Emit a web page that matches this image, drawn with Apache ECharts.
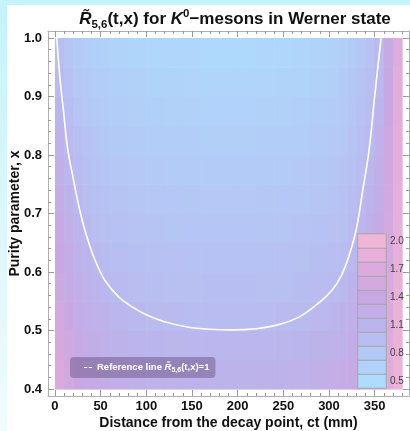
<!DOCTYPE html>
<html>
<head>
<meta charset="utf-8">
<script src="https://cdn.jsdelivr.net/npm/echarts@6.0.0/dist/echarts.min.js"></script>
<style>
html,body{margin:0;padding:0;}
#chart{width:410px;height:431px;}
</style>
</head>
<body>
<div id="chart"></div>
<script>
// cell edges of the density plot (t in mm, x purity)
var tEdges = [0,10,20,30,40,50,60,80,100,120,140,160,180,200,220,240,260,280,300,310,320,330,340,350,360,370,380];
var xEdges = [0.4,0.45,0.5,0.55,0.6,0.65,0.7,0.75,0.8,0.85,0.9,0.95,1.0];

// R values, one list per t cell, from x=0.4 (bottom) to x=1.0 (top)
var ratio = [
	[1.68,1.61,1.55,1.48,1.41,1.35,1.28,1.21,1.15,1.08,1.01,0.97],
	[1.52,1.46,1.39,1.33,1.26,1.20,1.13,1.07,1.01,0.95,0.90,0.84],
	[1.42,1.36,1.29,1.23,1.17,1.10,1.04,0.98,0.93,0.88,0.82,0.77],
	[1.36,1.29,1.23,1.16,1.09,1.03,0.97,0.92,0.87,0.82,0.77,0.72],
	[1.31,1.24,1.17,1.10,1.03,0.97,0.92,0.87,0.83,0.78,0.73,0.68],
	[1.27,1.20,1.12,1.05,0.98,0.94,0.89,0.84,0.80,0.75,0.71,0.66],
	[1.23,1.15,1.07,0.99,0.95,0.90,0.86,0.82,0.77,0.73,0.68,0.64],
	[1.19,1.11,1.02,0.97,0.92,0.88,0.83,0.79,0.74,0.70,0.66,0.61],
	[1.17,1.08,1.00,0.95,0.91,0.86,0.82,0.77,0.73,0.68,0.64,0.59],
	[1.15,1.06,0.99,0.94,0.90,0.85,0.81,0.76,0.72,0.67,0.63,0.58],
	[1.14,1.05,0.98,0.94,0.89,0.84,0.80,0.75,0.71,0.66,0.62,0.57],
	[1.13,1.05,0.98,0.93,0.89,0.84,0.79,0.75,0.70,0.65,0.61,0.56],
	[1.13,1.05,0.98,0.93,0.89,0.84,0.79,0.75,0.70,0.65,0.61,0.56],
	[1.13,1.05,0.98,0.93,0.89,0.84,0.79,0.75,0.70,0.65,0.61,0.56],
	[1.14,1.05,0.98,0.94,0.89,0.85,0.80,0.75,0.71,0.66,0.62,0.57],
	[1.15,1.06,0.99,0.94,0.90,0.85,0.81,0.76,0.72,0.67,0.63,0.58],
	[1.17,1.08,1.00,0.96,0.91,0.87,0.82,0.78,0.73,0.69,0.64,0.60],
	[1.21,1.13,1.04,0.98,0.93,0.89,0.85,0.80,0.76,0.72,0.67,0.63],
	[1.25,1.16,1.08,1.00,0.95,0.91,0.87,0.83,0.79,0.74,0.70,0.66],
	[1.28,1.20,1.12,1.03,0.98,0.94,0.90,0.86,0.82,0.78,0.74,0.70],
	[1.33,1.26,1.19,1.12,1.04,0.99,0.95,0.91,0.87,0.84,0.80,0.76],
	[1.40,1.33,1.27,1.20,1.14,1.07,1.01,0.97,0.93,0.89,0.86,0.82],
	[1.50,1.44,1.38,1.32,1.25,1.19,1.13,1.07,1.01,0.97,0.93,0.90],
	[1.62,1.56,1.50,1.45,1.39,1.33,1.27,1.21,1.16,1.10,1.04,0.99],
	[1.76,1.72,1.69,1.65,1.61,1.57,1.54,1.50,1.46,1.42,1.39,1.35],
	[1.92,1.91,1.89,1.87,1.86,1.84,1.83,1.81,1.80,1.78,1.77,1.75]
];

// reference contour R=1
var refT = [2,5,9,14,20,28,35,44,55,70,85,100,120,145,170,195,220,245,266,283,298,309,318,329,337,344,350,357];
var refX = [1.0,0.94,0.88,0.81,0.76,0.70,0.66,0.62,0.585,0.557,0.54,0.527,0.515,0.506,0.502,0.501,0.503,0.51,0.522,0.54,0.56,0.581,0.61,0.667,0.74,0.81,0.90,1.0];

// colour bar
var barLevels = [0.5,0.65,0.8,0.95,1.1,1.25,1.4,1.55,1.7,1.85,2.0];
var barLabels = ['0.5','0.65','0.8','0.95','1.1','1.25','1.4','1.55','1.7','1.85','2.0'];

// ticks
var xMajor = [0,50,100,150,200,250,300,350];
var xMinor = [0,10,20,30,40,50,60,70,80,90,100,110,120,130,140,150,160,170,180,190,200,210,220,230,240,250,260,270,280,290,300,310,320,330,340,350,360,370,380];
var yMajor = [0.4,0.5,0.6,0.7,0.8,0.9,1.0];
var yMinor = [0.4,0.42,0.44,0.46,0.48,0.5,0.52,0.54,0.56,0.58,0.6,0.62,0.64,0.66,0.68,0.7,0.72,0.74,0.76,0.78,0.8,0.82,0.84,0.86,0.88,0.9,0.92,0.94,0.96,0.98,1.0];

var FONT = 'Liberation Sans';
var PALETTE = ['#addcfd','#b4c8f6','#bcb4ec','#c9a7e2','#dcaadc','#f0b6d8'];
var T_MIN = -7.6, T_MAX = 387.6, X_MIN = 0.388, X_MAX = 1.012;

var cells = [];
for (var i = 0; i < ratio.length; i++) {
	for (var j = 0; j < ratio[i].length; j++) {
		cells.push([tEdges[i], tEdges[i+1], xEdges[j], xEdges[j+1], ratio[i][j]]);
	}
}
var refData = refT.map(function(t, k){ return [t, refX[k]]; });
var barData = barLevels.map(function(v, k){ return [0, k, v]; });

function renderCell(params, api){
	var p0 = api.coord([api.value(0), api.value(3)]);
	var p1 = api.coord([api.value(1), api.value(2)]);
	return {
		type: 'rect',
		shape: {x: p0[0], y: p0[1], width: p1[0]-p0[0]+0.6, height: p1[1]-p0[1]+0.6},
		style: {fill: api.visual('color')}
	};
}

function xAxisDef(pos, ticks, len, main){
	return {
		type: 'value', gridIndex: 0, min: T_MIN, max: T_MAX, position: pos,
		axisLine: {show: main, onZero: false, lineStyle: {color: '#b0b0b0', width: 1}},
		axisTick: {inside: true, length: len, customValues: ticks, lineStyle: {color: '#9a9a9a'}},
		axisLabel: {show: main && pos === 'bottom', customValues: xMajor, fontFamily: FONT, fontWeight: 'bold', fontSize: 13, color: '#111', margin: 4},
		splitLine: {show: false}
	};
}
function yAxisDef(pos, ticks, len, main){
	return {
		type: 'value', gridIndex: 0, min: X_MIN, max: X_MAX, position: pos,
		axisLine: {show: main, onZero: false, lineStyle: {color: '#b0b0b0', width: 1}},
		axisTick: {inside: true, length: len, customValues: ticks, lineStyle: {color: '#9a9a9a'}},
		axisLabel: {show: main && pos === 'left', customValues: yMajor, fontFamily: FONT, fontWeight: 'bold', fontSize: 13, color: '#111', margin: 6,
			formatter: function(v){ return v.toFixed(1); }},
		splitLine: {show: false}
	};
}

var xAxes = [xAxisDef('bottom', xMajor, 6, true), xAxisDef('bottom', xMinor, 3, false), xAxisDef('top', xMajor, 6, true), xAxisDef('top', xMinor, 3, false)];
xAxes[0].name = 'Distance from the decay point, ct (mm)';
xAxes[0].nameLocation = 'middle';
xAxes[0].nameGap = 20;
xAxes[0].nameMoveOverlap = false;
xAxes[0].nameTextStyle = {fontFamily: FONT, fontWeight: 'bold', fontSize: 14, color: '#111'};
xAxes.push({type: 'category', gridIndex: 1, data: ['c'], show: false});

var yAxes = [yAxisDef('left', yMajor, 6, true), yAxisDef('left', yMinor, 3, false), yAxisDef('right', yMajor, 6, true), yAxisDef('right', yMinor, 3, false)];
yAxes[0].name = 'Purity parameter, x';
yAxes[0].nameLocation = 'middle';
yAxes[0].nameGap = 26;
yAxes[0].nameMoveOverlap = false;
yAxes[0].nameTextStyle = {fontFamily: FONT, fontWeight: 'bold', fontSize: 14, color: '#111'};
yAxes.push({
	type: 'category', gridIndex: 1, data: barLabels, position: 'right', z: 6,
	axisLine: {show: false}, axisTick: {show: false},
	axisLabel: {interval: 1, fontFamily: FONT, fontSize: 10, color: '#444', margin: 4}
});

var myChart = echarts.init(document.getElementById('chart'), null, {renderer: 'canvas'});
myChart.setOption({
	animation: false,
	backgroundColor: {
		type: 'linear', x: 0, y: 0, x2: 0, y2: 1,
		colorStops: [{offset: 0, color: '#c4f3fb'}, {offset: 1, color: '#f0fcfe'}]
	},
	graphic: [{type: 'rect', left: 7, top: 5, z: -10, shape: {width: 403, height: 426}, style: {fill: '#ffffff'}}],
	title: {
		text: '{ri|R\u0303}{sub|5,6}{b|(t,x) for }{ri|K}{sup|0}{b|\u2212mesons in Werner state}',
		left: 230, top: 3, textAlign: 'center',
		textStyle: {
			rich: {
				b: {fontFamily: FONT, fontWeight: 'bold', fontSize: 17, color: '#111', lineHeight: 23},
				ri: {fontFamily: FONT, fontWeight: 'bold', fontStyle: 'italic', fontSize: 17, color: '#111', lineHeight: 23},
				sub: {fontFamily: FONT, fontWeight: 'bold', fontSize: 11.5, color: '#111', lineHeight: 12, verticalAlign: 'bottom'},
				sup: {fontFamily: FONT, fontWeight: 'bold', fontSize: 11.5, color: '#111', lineHeight: 12, verticalAlign: 'top'}
			}
		}
	},
	legend: {
		data: ['ref'], left: 70, top: 357,
		padding: [4, 6, 4, 14], borderRadius: 4,
		backgroundColor: 'rgba(120,100,150,0.6)',
		icon: 'path://M0,0H4V1H0Z M6,0H10V1H6Z', itemWidth: 8, itemHeight: 2,
		formatter: function(){ return 'Reference line {r|R\u0303}{s|5,6}(t,x)=1'; },
		textStyle: {
			fontFamily: FONT, fontWeight: 'bold', fontSize: 9.5, color: '#fff', lineHeight: 13,
			rich: {
				r: {fontFamily: FONT, fontWeight: 'bold', fontStyle: 'italic', fontSize: 9.5, color: '#fff', lineHeight: 13},
				s: {fontFamily: FONT, fontWeight: 'bold', fontSize: 7, color: '#fff', lineHeight: 7, verticalAlign: 'bottom'}
			}
		}
	},
	grid: [
		{left: 48, top: 31, right: 1, bottom: 35, outerBoundsMode: 'none'},
		{left: 358, top: 234, width: 28, height: 154, outerBoundsMode: 'none'}
	],
	xAxis: xAxes,
	yAxis: yAxes,
	visualMap: [
		{show: false, seriesIndex: 0, dimension: 4, min: 0.5, max: 2.0, inRange: {color: PALETTE}},
		{show: false, seriesIndex: 2, dimension: 2, min: 0.5, max: 2.0, inRange: {color: PALETTE}}
	],
	series: [
		{
			type: 'custom', name: 'density', xAxisIndex: 0, yAxisIndex: 0,
			renderItem: renderCell,
			encode: {x: [0, 1], y: [2, 3]},
			data: cells, z: 1
		},
		{
			type: 'line', name: 'ref', xAxisIndex: 0, yAxisIndex: 0,
			data: refData, symbol: 'none', smooth: 0.4,
			lineStyle: {color: '#ffffff', width: 1.6},
			itemStyle: {color: '#ffffff'}, z: 3
		},
		{
			type: 'heatmap', name: 'bar', xAxisIndex: 4, yAxisIndex: 4,
			data: barData,
			itemStyle: {borderColor: '#a6a6a6', borderWidth: 1}, z: 4
		}
	]
});
</script>
</body>
</html>
